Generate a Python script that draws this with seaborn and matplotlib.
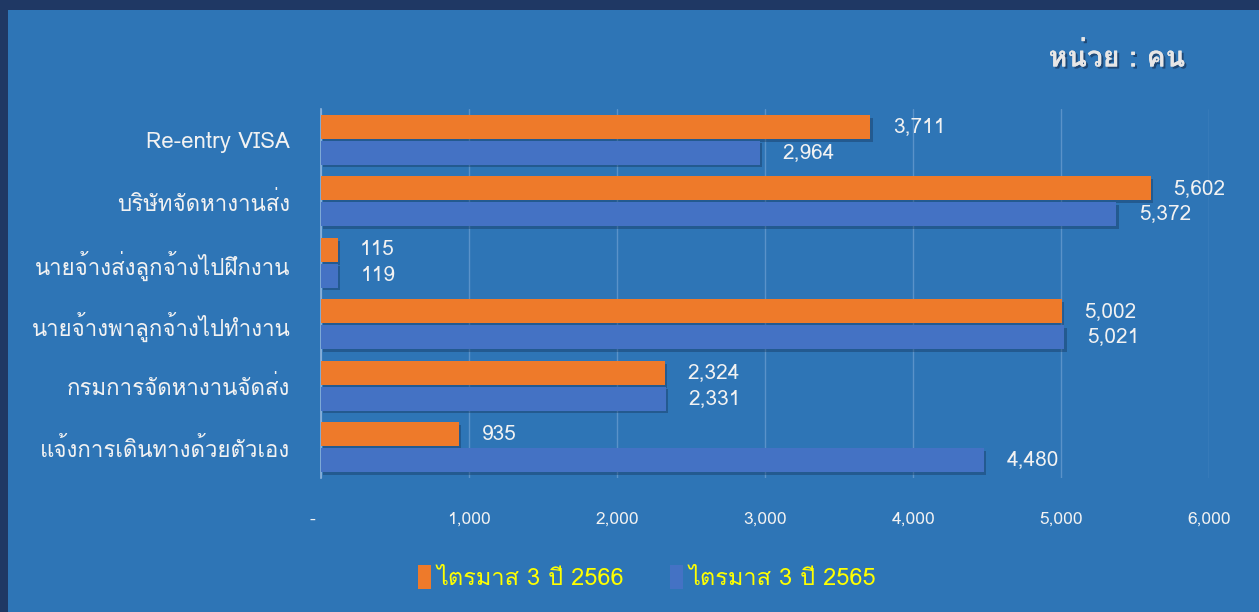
import matplotlib
matplotlib.use("Agg")
import matplotlib.pyplot as plt
import matplotlib.font_manager as fm
import matplotlib.transforms as mtransforms
from matplotlib.ft2font import FT2Font
from matplotlib.patches import Rectangle, Patch
import matplotlib.patheffects as pe
import seaborn as sns
import pandas as pd

# ---------------- data ----------------
categories = [
    "Re-entry VISA",
    "บริษัทจัดหางานส่ง",
    "นายจ้างส่งลูกจ้างไปฝึกงาน",
    "นายจ้างพาลูกจ้างไปทำงาน",
    "กรมการจัดหางานจัดส่ง",
    "แจ้งการเดินทางด้วยตัวเอง",
]
series_names = ["ไตรมาส 3 ปี 2566", "ไตรมาส 3 ปี 2565"]
q3_2566 = [3711, 5602, 115, 5002, 2324, 935]
q3_2565 = [2964, 5372, 119, 5021, 2331, 4480]
x_ticks = [0, 1000, 2000, 3000, 4000, 5000, 6000]
x_tick_labels = ["-", "1,000", "2,000", "3,000", "4,000", "5,000", "6,000"]
unit_text = "หน่วย : คน"

# ---------------- fonts ----------------
sns.set_theme(style="white")
thai = []
for f in fm.fontManager.ttflist:
    try:
        cm = FT2Font(f.fname).get_charmap()
        if 0x0E01 in cm and 0x0E49 in cm and f.name not in thai:
            thai.append(f.name)
    except Exception:
        pass
families = thai + ["DejaVu Sans"]
plt.rcParams["font.family"] = families

# ---------------- colours ----------------
NAVY = "#1F3864"
BG = "#2E75B6"
ORANGE = "#EE7A2A"
BLUE = "#4472C4"
WHITE = "#F2F2F2"
YELLOW = "#FFFF00"

df = pd.DataFrame({
    "category": categories * 2,
    "series": [series_names[0]] * len(categories) + [series_names[1]] * len(categories),
    "value": q3_2566 + q3_2565,
})

fig = plt.figure(figsize=(12.59, 6.12), dpi=100)
fig.patch.set_facecolor(NAVY)
fig.add_artist(Rectangle((8 / 1259, 0), 1 - 8 / 1259, 1 - 10 / 612,
                         transform=fig.transFigure, facecolor=BG,
                         edgecolor="none", zorder=0))

ax = fig.add_axes([320.7 / 1259, (612 - 478) / 612, (1209.5 - 320.7) / 1259, (478 - 109) / 612])
ax.set_facecolor(BG)

sns.barplot(data=df, y="category", x="value", hue="series",
            hue_order=series_names, order=categories,
            palette=[ORANGE, BLUE], orient="h", width=0.83, gap=0.06,
            ax=ax, legend=False, saturation=1, zorder=3,
            edgecolor="none", linewidth=0)

shadow = [pe.SimplePatchShadow(offset=(1.5, -2), shadow_rgbFace="#0F2A4A", alpha=0.35), pe.Normal()]
for cont in ax.containers:
    for bar in cont:
        bar.set_path_effects(shadow)

for cont, vals in zip(ax.containers, [q3_2566, q3_2565]):
    ax.bar_label(cont, labels=[f"{v:,}" for v in vals], padding=16,
                 color=WHITE, fontsize=15)

ax.set_xlim(0, 6000)
ax.set_ylim(len(categories) - 0.5, -0.5)
ax.set_xticks(x_ticks)
ax.set_xticklabels(x_tick_labels)
ax.tick_params(axis="x", length=0, pad=24, labelsize=12.5, labelcolor=WHITE)
ax.tick_params(axis="y", length=0, pad=22, labelsize=16, labelcolor=WHITE)
ax.set_xlabel("")
ax.set_ylabel("")
ax.grid(axis="x", color="#5A92C9", linewidth=1, zorder=0)
ax.set_axisbelow(True)
for s in ["top", "right", "bottom"]:
    ax.spines[s].set_visible(False)
ax.spines["left"].set_color("#8DB4DD")
ax.spines["left"].set_linewidth(1.2)

# shift the "-" zero label slightly left, as in the reference
zero_lbl = ax.get_xticklabels()[0]
zero_lbl.set_transform(zero_lbl.get_transform() +
                       mtransforms.ScaledTranslation(-8 / 100, 0, fig.dpi_scale_trans))

# legend
handles = [Patch(facecolor=ORANGE, edgecolor="none"), Patch(facecolor=BLUE, edgecolor="none")]
leg = fig.legend(handles, series_names, loc="center", bbox_to_anchor=(0.514, 0.057),
                 ncol=2, frameon=False, fontsize=17, labelcolor=YELLOW,
                 handlelength=0.55, handleheight=1.2, handletextpad=0.25,
                 columnspacing=1.9)

# unit text
fig.text(1185 / 1259, 1 - 57 / 612, unit_text, ha="right", va="center",
         fontsize=20.5, fontweight="bold", color="#E7E6E6",
         path_effects=[pe.withSimplePatchShadow(offset=(1.5, -1.5), shadow_rgbFace="#1a3d66", alpha=0.8),
                       pe.Normal()])

fig.savefig("out.png", dpi=100, facecolor=fig.get_facecolor())
